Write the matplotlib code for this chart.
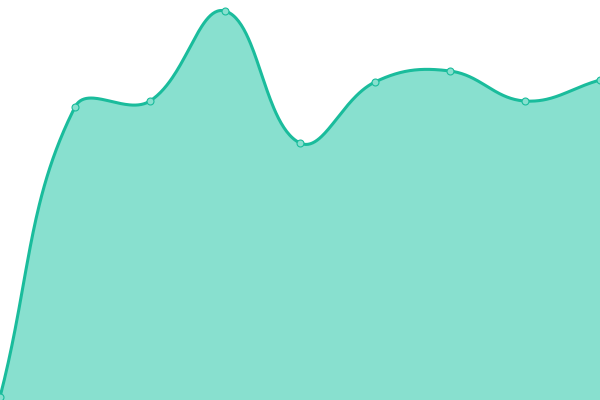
import numpy as np
import matplotlib
matplotlib.use("Agg")
import matplotlib.pyplot as plt

# Data (x positions are category indices, values in chart units)
categories = list(range(9))
values = [3, 293, 299, 389, 257, 318, 329, 299, 320]

LINE = "#1ABC9C"
FILL = "#88E0CF"

fig = plt.figure(figsize=(6, 4), dpi=100)
ax = fig.add_axes([0, 0, 1, 1])
ax.set_xlim(0, 8)
ax.set_ylim(0, 400)
ax.axis("off")

# Convert to pixel space for Chart.js-style spline (tension 0.4)
xs = np.array(categories, float) * 75.0
ys = np.array(values, float)
t = 0.4
n = len(xs)
cp_prev = [None] * n
cp_next = [None] * n
for i in range(n):
    p = np.array([xs[i], ys[i]])
    prev = np.array([xs[i - 1], ys[i - 1]]) if i > 0 else p
    nxt = np.array([xs[i + 1], ys[i + 1]]) if i < n - 1 else p
    d01 = np.hypot(*(p - prev))
    d12 = np.hypot(*(nxt - p))
    tot = d01 + d12
    s01 = d01 / tot if tot else 0
    s12 = d12 / tot if tot else 0
    fa, fb = t * s01, t * s12
    cp_prev[i] = np.clip(p - fa * (nxt - prev), [0, 0], [600, 400])
    cp_next[i] = np.clip(p + fb * (nxt - prev), [0, 0], [600, 400])

px, py = [], []
u = np.linspace(0, 1, 60)
for i in range(n - 1):
    P0 = np.array([xs[i], ys[i]]); P1 = cp_next[i]; P2 = cp_prev[i + 1]; P3 = np.array([xs[i + 1], ys[i + 1]])
    B = ((1 - u) ** 3)[:, None] * P0 + (3 * (1 - u) ** 2 * u)[:, None] * P1 + (3 * (1 - u) * u ** 2)[:, None] * P2 + (u ** 3)[:, None] * P3
    px.extend(B[:, 0]); py.extend(B[:, 1])
px = np.array(px) / 75.0
py = np.array(py)

ax.fill_between(px, 0, py, color=FILL, linewidth=0)
ax.plot(px, py, color=LINE, linewidth=2.2, solid_capstyle="round")
ax.plot(categories, values, "o", markersize=5, markerfacecolor=FILL, markeredgecolor=LINE, markeredgewidth=0.8)

fig.savefig("out.png", dpi=100)
